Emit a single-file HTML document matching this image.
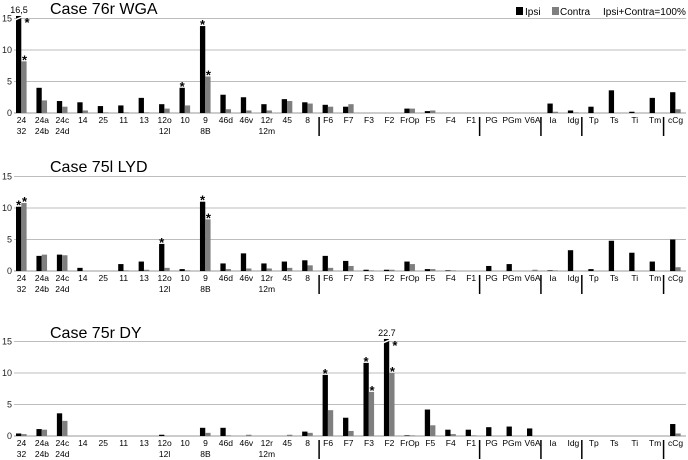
<!DOCTYPE html>
<html><head><meta charset="utf-8">
<style>
html,body{margin:0;padding:0;background:#fff;}
svg{display:block;font-family:"Liberation Sans",Arial,sans-serif;}
</style></head>
<body>
<svg id="chart" width="688" height="460" viewBox="0 0 688 460" xmlns="http://www.w3.org/2000/svg">
  <g id="legend">
    <rect x="516" y="7" width="7" height="8" fill="#000"/>
    <text x="525" y="15" font-size="10">Ipsi</text>
    <rect x="552" y="7" width="7" height="8" fill="#7f7f7f"/>
    <text x="560" y="15" font-size="10">Contra</text>
    <text x="603" y="15" font-size="10">Ipsi+Contra=100%</text>
  </g>
</svg>
<script>
const categories1 = ["24","24a","24c","14","25","11","13","12o","10","9","46d","46v","12r","45","8","F6","F7","F3","F2","FrOp","F5","F4","F1","PG","PGm","V6A","Ia","Idg","Tp","Ts","Ti","Tm","cCg"];
const categories2 = ["32","24b","24d","","","","","12l","","8B","","","12m","","","","","","","","","","","","","","","","","","","",""];
const separatorsAfter = [14, 22, 25, 27, 31];
const yTicks = [0, 5, 10, 15];
const titles = ["Case 76r WGA", "Case 75l LYD", "Case 75r DY"];

const ipsiA   = [16.5,4.0,1.9,1.7,1.1,1.2,2.4,1.4,4.0,13.8,2.9,2.5,1.4,2.2,1.7,1.3,1.0,0,0,0.7,0.3,0,0,0,0,0,1.5,0.4,1.0,3.6,0.2,2.4,3.3];
const contraA = [8.2,2.0,1.0,0.4,0.1,0.1,0.1,0.7,1.2,5.8,0.6,0.4,0.4,1.9,1.5,1.0,1.4,0,0,0.7,0.4,0,0,0,0,0,0.2,0.1,0,0,0,0,0.6];
const starsIpsiA = [0,8,9];
const starsContraA = [0,9];

const ipsiB   = [10.2,2.4,2.6,0.5,0,1.1,1.5,4.3,0.3,11.0,1.2,2.8,1.2,1.5,1.7,2.4,1.6,0.2,0.2,1.5,0.3,0.1,0,0.8,1.1,0,0.1,3.3,0.3,4.8,2.9,1.5,5.0];
const contraB = [10.8,2.6,2.5,0,0,0.1,0.2,0.5,0.1,8.2,0.3,0.4,0.4,0.5,0.9,0.5,0.8,0.1,0.2,1.1,0.3,0.1,0,0,0,0.2,0.1,0,0,0,0,0,0.6];
const starsIpsiB = [0,7,9];
const starsContraB = [0,9];

const ipsiC   = [0.4,1.1,3.6,0,0,0,0,0.2,0,1.3,1.3,0,0,0,0.7,9.7,2.9,11.6,22.7,0.1,4.2,1.0,1.0,1.4,1.5,1.2,0,0,0,0,0,0,1.9];
const contraC = [0.3,1.0,2.4,0,0,0,0,0,0,0.5,0.1,0.2,0,0.2,0.5,4.1,0.8,7.0,10.0,0.1,1.7,0.3,0.1,0,0,0,0,0,0,0,0,0,0.4];
const starsIpsiC = [15,17,18];
const starsContraC = [17,18];

const panels = [
  {title:titles[0], y0:113, ipsi:ipsiA, contra:contraA, si:starsIpsiA, sc:starsContraA, tY:14},
  {title:titles[1], y0:271, ipsi:ipsiB, contra:contraB, si:starsIpsiB, sc:starsContraB, tY:172},
  {title:titles[2], y0:436, ipsi:ipsiC, contra:contraC, si:starsIpsiC, sc:starsContraC, tY:338}
];

const NS = "http://www.w3.org/2000/svg";
const svg = document.getElementById('chart');
const PX = 6.3, YMAX = 15;
function xStart(i){ return 16 + i*20.44; }
function mk(tag, attrs, parent){ const e=document.createElementNS(NS,tag); for(const k in attrs) e.setAttribute(k,attrs[k]); (parent||svg).appendChild(e); return e; }

panels.forEach((p, pi) => {
  const g = mk('g', {});
  
  
  const yS = v => p.y0 - Math.min(v, YMAX + 0.4) * PX;

  const t = mk('text', {x:50, y:p.tY, 'font-size':16}, g);
  
  
  t.textContent = p.title;

  yTicks.forEach(v => {
    const ln = mk('line', {x1:14, x2:686, y1:p.y0 - v*PX, y2:p.y0 - v*PX, stroke: v===0 ? '#999' : '#bdbdbd', 'stroke-width':1}, g);
    
    
    const tl = mk('text', {x:12, y:p.y0 - v*PX + 3, 'font-size':9, 'text-anchor':'end', fill:'#222'}, g);
    
    
    tl.textContent = v;
  });

  separatorsAfter.forEach(i => {
    const x = i===14 ? xStart(i+1)-3.5 : xStart(i+1)-6.5;
    const s = mk('line', {x1:x, x2:x, y1:p.y0+4, y2:p.y0+23, stroke:'#000', 'stroke-width':1.5}, g);
    
    
  });

  categories1.forEach((c, i) => {
    const xs = xStart(i);
    const iv = p.ipsi[i], cv = p.contra[i];
    if (iv > 0) {
      const b = mk('rect', {x:xs, y:yS(iv), width:5.3, height:p.y0 - yS(iv), fill:'#000'}, g);
      
      
      if (iv > YMAX) {
        const cut = mk('line', {x1:xs-1, y1:yS(iv)+4, x2:xs+7, y2:yS(iv)+0.5, stroke:'#fff', 'stroke-width':1.5}, g);
        
        
        const lab = mk('text', {x:xs+3, y:yS(iv)-3, 'font-size':9, 'text-anchor':'middle'}, g);
        
        
        lab.textContent = pi===0 ? String(iv).replace('.', ',') : String(iv);
      }
    }
    if (cv > 0) {
      const b = mk('rect', {x:xs+5.3, y:yS(cv), width:5.3, height:p.y0 - yS(cv), fill:'#7f7f7f'}, g);
      
      
    }
    const l1 = mk('text', {x:xs+5.5, y:p.y0+10, 'font-size':8.5, 'text-anchor':'middle'}, g);
    
    
    l1.textContent = c;
    if (categories2[i]) {
      const l2 = mk('text', {x:xs+5.5, y:p.y0+21, 'font-size':8.5, 'text-anchor':'middle'}, g);
      
      
      l2.textContent = categories2[i];
    }
  });

  p.si.forEach(i => {
    const v = p.ipsi[i];
    const big = v > YMAX;
    const st = mk('text', {x: big ? xStart(i)+11 : xStart(i)+2.6, y: big ? yS(v)+11 : yS(v)+3, 'font-size':13, 'text-anchor':'middle', 'font-weight':'bold'}, g);
    
    
    st.textContent = '*';
  });
  p.sc.forEach(i => {
    const v = p.contra[i];
    const st = mk('text', {x:xStart(i)+8.5, y:yS(v)+3, 'font-size':13, 'text-anchor':'middle', 'font-weight':'bold'}, g);
    
    
    st.textContent = '*';
  });
});
</script>
</body></html>
